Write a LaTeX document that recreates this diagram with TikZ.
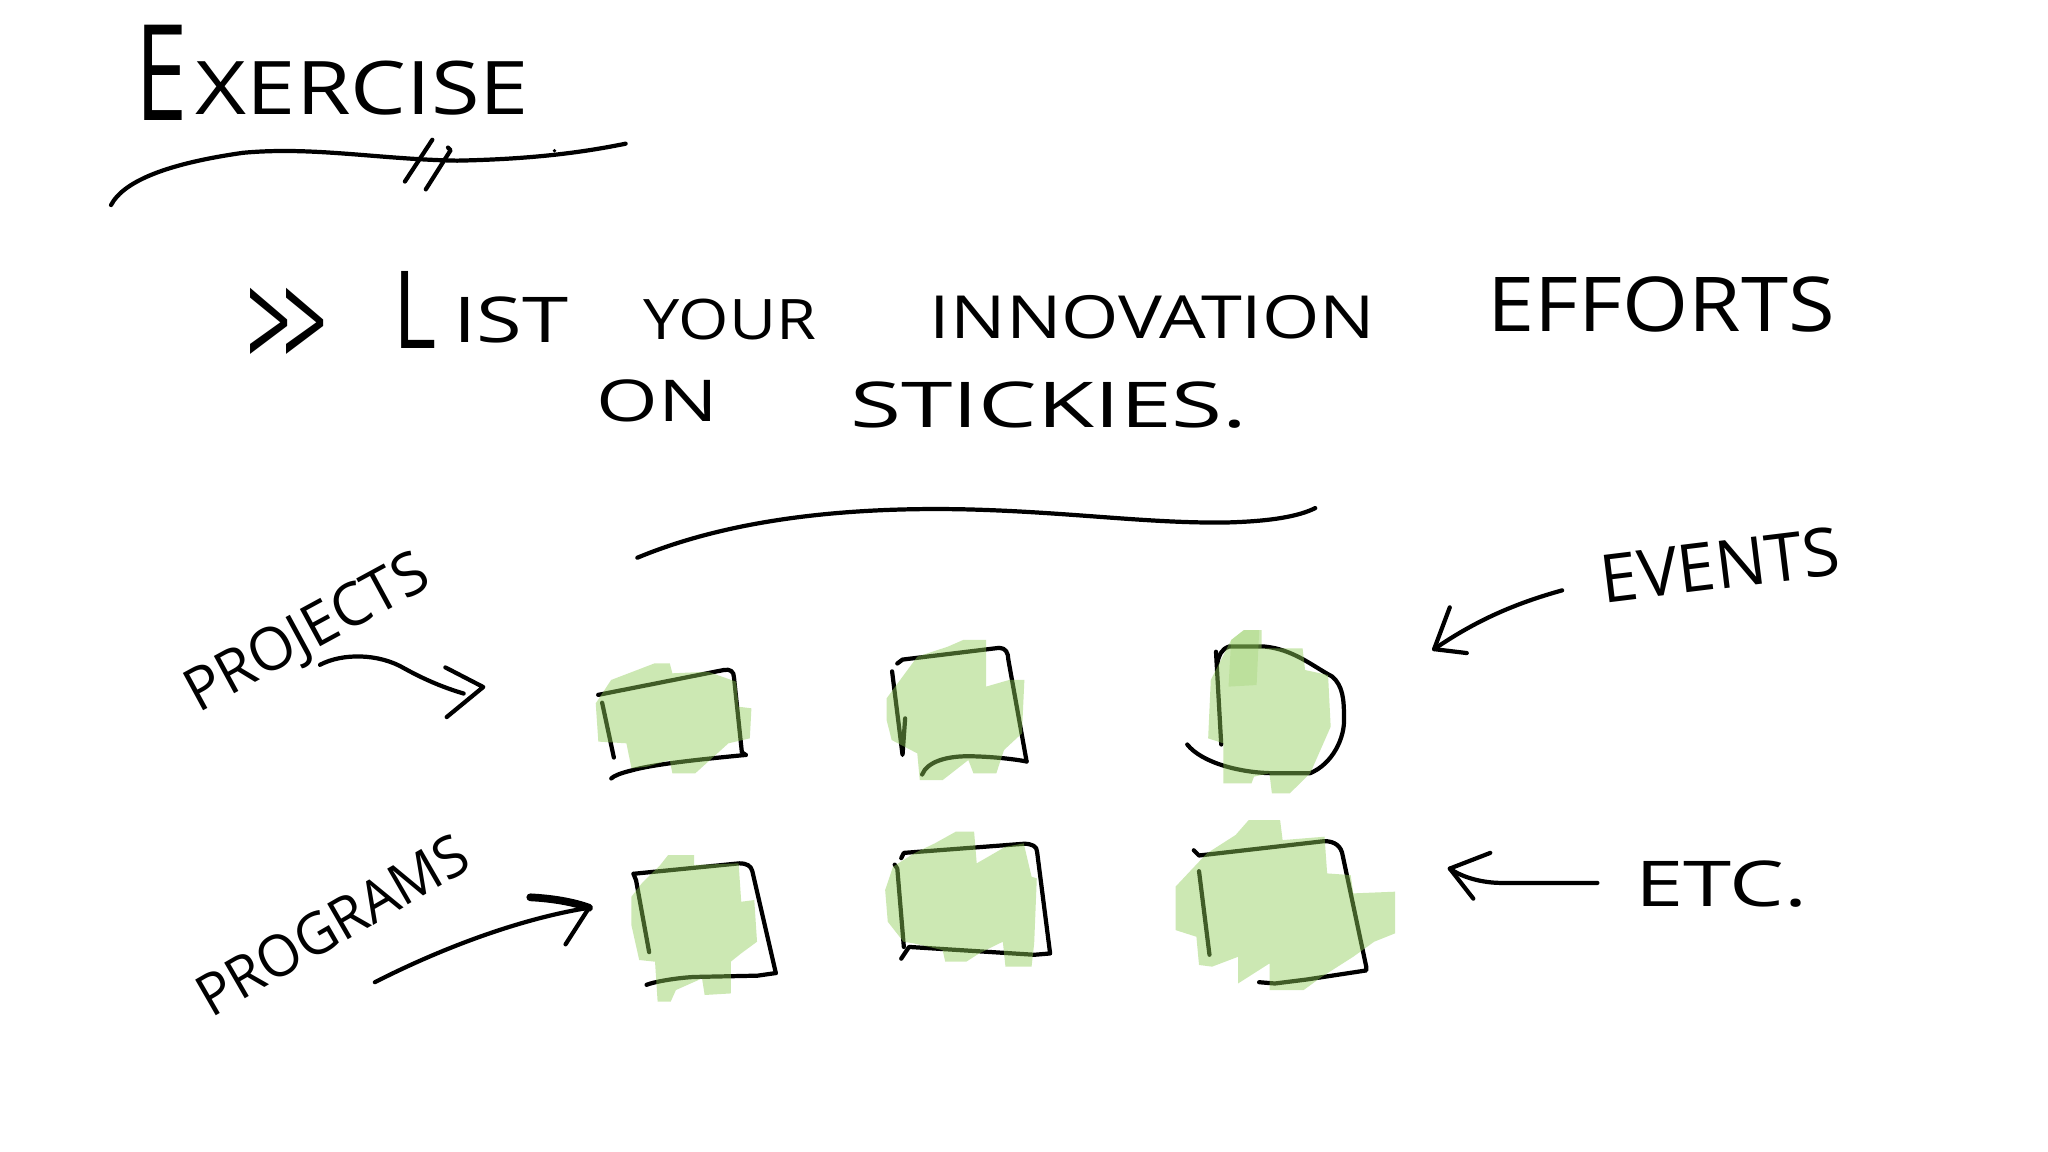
\documentclass[tikz,border=0pt]{standalone}
\usepackage{fontspec}
\setmainfont{Open Sans}
\usepackage{graphicx}
\newlength\uu
\setlength\uu{0.0130612cm}
\newcommand\fitw[3]{\resizebox{#1\uu}{#2\uu}{#3}}
\definecolor{markergreen}{RGB}{144,204,88}
\tikzset{
  ink/.style={draw=black, line width=1.2pt, line cap=round, line join=round},
  thickink/.style={ink, line width=2.2pt},
  hw/.style={inner sep=0pt, outer sep=0pt, anchor=base west},
  marker/.style={fill=markergreen, fill opacity=0.45, draw=none}
}
\begin{document}
\begin{tikzpicture}[x=0.0130612cm, y=-0.0130612cm]
\fill[white] (0,0) rectangle (1568,882);
\useasboundingbox (0,0) rectangle (1568,882);

% ---------- title ----------
\node[hw] (exE) at (104,92) {\fitw{40}{73}{E}};
\node[hw] (exRest) at (150,88) {\fitw{255}{41}{XERCISE}};
\draw[ink] (85,157) .. controls (95,138) and (130,125) .. (186,117)
           .. controls (240,112) and (290,122) .. (350,123)
           .. controls (400,122) and (440,118) .. (479,110);
\draw[ink] (310,139) -- (331,107);
\draw[ink] (326,145) -- (345,115) -- (343,113);
\fill (424.5,115.4) circle (1.4);

% ---------- instruction ----------
\node[hw] (chev) at (189,284) {\fitw{62}{63}{>\kern-0.12em>}};
\node[hw] (wL) at (301,267) {\fitw{33}{59}{L}};
\node[hw] (wIST) at (347,262) {\fitw{88}{35}{IST}};
\node[hw] (wYOUR) at (493,260) {\fitw{132}{31}{YOUR}};
\node[hw] (wINNOV) at (712,259) {\fitw{341}{33}{INNOVATION}};
\node[hw] (wEFF) at (1139,254) {\fitw{266}{42}{EFFORTS}};
\node[hw] (wON) at (457,323) {\fitw{93}{32}{ON}};
\node[hw] (wSTICK) at (651,327) {\fitw{304}{35}{STICKIES.}};

\draw[ink] (488,427) .. controls (560,397) and (650,388) .. (740,390)
           .. controls (820,392) and (880,401) .. (940,400)
           .. controls (975,399) and (995,395) .. (1007,389);

% ---------- side labels ----------
\node[hw, rotate=28.5] (lProj) at (152,546) {\fitw{205}{33}{PROJECTS}};
\node[hw, rotate=30] (lProg) at (162,780) {\fitw{232}{32}{PROGRAMS}};
\node[hw, rotate=7] (lEvents) at (1228,462) {\fitw{184}{37}{EVENTS}};
\node[hw] (lEtc) at (1252,694) {\fitw{132}{35}{ETC.}};

% ---------- arrows ----------
\coordinate (pjS) at (245,509);
\coordinate (pjE) at (355,531);
\coordinate (pjT) at (370,526);
\draw[ink] (pjS) .. controls (262,500) and (290,500) .. (310,512)
           .. controls (330,523) and (345,528) .. (pjE);
\draw[ink] (341,511) -- (pjT) -- (342,549);

\coordinate (pgS) at (287,752);
\coordinate (pgT) at (451,695);
\draw[ink] (pgS) .. controls (340,725) and (400,703) .. (pgT);
\draw[thickink] (406,687) .. controls (425,688) and (440,691) .. (pgT);
\draw[ink] (pgT) -- (433,723);

\coordinate (evS) at (1196,452);
\coordinate (evT) at (1098,497);
\draw[ink] (evS) .. controls (1160,462) and (1130,475) .. (evT);
\draw[ink] (1110,465) -- (evT) -- (1123,500);

\coordinate (etS) at (1223,676);
\coordinate (etT) at (1110,665);
\draw[ink] (etS) -- (1150,676) .. controls (1135,676) and (1120,672) .. (etT);
\draw[ink] (1141,653) -- (etT) -- (1128,688);

% ---------- sticky outlines ----------
% S1
\draw[ink] (458,532) -- (554,513) .. controls (559,512) and (562,514) .. (562,519) -- (568,576) -- (571,578);
\draw[ink] (571,578) .. controls (540,581) and (500,585) .. (483,590) .. controls (475,592) and (470,594) .. (468,596);
\draw[ink] (461,538) -- (470,580);
% S2
\draw[ink] (687,508) -- (691,505) -- (765,496) .. controls (770,496) and (772,500) .. (772,505) -- (786,583);
\draw[ink] (786,583) .. controls (770,580) and (750,579) .. (741,579) .. controls (725,579) and (710,583) .. (706,593);
\draw[ink] (683,514) -- (691,578) -- (693,550);
% S3
\draw[ink] (931,499) -- (935,570);
\draw[ink] (909,570) .. controls (920,584) and (950,592) .. (976,592) -- (1003,592)
           .. controls (1020,585) and (1030,565) .. (1029,549)
           .. controls (1029,535) and (1028,525) .. (1020,518)
           .. controls (1005,510) and (990,497) .. (968,495) -- (941,495)
           .. controls (935,497) and (933,502) .. (932,508);
% S4
\draw[ink] (485,669) -- (566,661) .. controls (572,661) and (575,663) .. (576,667) -- (594,745);
\draw[ink] (594,745) -- (580,747) -- (531,748) .. controls (515,749) and (500,752) .. (495,754);
\draw[ink] (485,669) -- (487,674) -- (497,729);
% S5
\draw[ink] (690,657) -- (692,653) -- (784,646) .. controls (790,646) and (794,648) .. (794,652) -- (804,730) -- (792,731) -- (696,725) -- (690,734);
\draw[ink] (685,662) -- (687,665) -- (692,725);
% S6
\draw[ink] (914,651) -- (918,655) -- (1014,644) .. controls (1022,644) and (1027,648) .. (1028,655) -- (1046,740) -- (1046,743) -- (1000,750) -- (976,753) -- (964,752);
\draw[ink] (918,667) -- (926,731);

% ---------- marker fills ----------
\fill[marker] (456.1,538.5) -- (467.9,520.6) -- (501.1,507.9) -- (512.8,507.9) -- (514.8,515.5) -- (542.1,514.3) -- (563.6,521.9) -- (565.5,541.1) -- (575.3,542.3) -- (574.1,565.3) -- (557.7,569.1) -- (532.3,592.1) -- (514.8,592.1) -- (512.8,581.9) -- (495.2,587.0) -- (483.5,588.3) -- (479.6,569.1) -- (458.1,567.8) -- cycle;
\fill[marker] (678.8,534.7) -- (702.3,502.8) -- (725.7,495.1) -- (737.4,490.0) -- (755.0,490.0) -- (755.0,525.7) -- (772.6,520.6) -- (784.3,520.6) -- (782.4,561.5) -- (768.7,574.2) -- (762.8,592.1) -- (745.3,592.1) -- (741.4,581.9) -- (721.8,597.2) -- (704.2,597.2) -- (702.3,576.8) -- (682.7,566.6) -- (678.8,551.3) -- cycle;
\fill[marker] (925.0,565.3) -- (927.0,520.6) -- (942.6,490.0) -- (952.3,482.4) -- (966.0,482.4) -- (966.0,496.4) -- (997.3,496.4) -- (999.2,513.0) -- (1016.8,516.8) -- (1018.8,556.4) -- (1003.1,592.1) -- (987.5,607.4) -- (973.8,607.4) -- (971.9,592.1) -- (960.1,594.6) -- (958.2,599.7) -- (936.7,599.7) -- (936.7,569.1) -- cycle;
\fill[marker, fill opacity=0.25] (940.6,525.7) -- (942.6,490.0) -- (952.3,482.4) -- (964.1,482.4) -- (962.1,524.5) -- cycle;
\fill[marker] (483.4,686.6) -- (491.4,676.3) -- (505.5,662.3) -- (511.5,654.7) -- (531.5,654.7) -- (531.5,662.3) -- (565.5,661.0) -- (567.5,690.4) -- (577.5,689.1) -- (579.6,721.0) -- (567.5,729.9) -- (559.5,736.3) -- (559.5,760.6) -- (539.5,761.8) -- (537.5,749.1) -- (517.5,758.0) -- (513.5,766.9) -- (503.5,766.9) -- (501.5,736.3) -- (489.4,735.0) -- (483.4,708.2) -- cycle;
\fill[marker] (677.7,681.4) -- (683.7,663.6) -- (699.7,653.4) -- (715.7,645.7) -- (731.7,636.8) -- (745.8,636.8) -- (747.8,661.0) -- (769.8,648.3) -- (783.8,645.7) -- (789.8,671.2) -- (793.8,672.5) -- (791.8,722.3) -- (789.8,740.1) -- (769.8,740.1) -- (767.8,721.0) -- (749.8,729.9) -- (739.8,736.3) -- (723.7,736.3) -- (721.7,727.4) -- (699.7,722.3) -- (691.7,721.0) -- (679.7,705.7) -- cycle;
\fill[marker] (900.0,712.1) -- (900.0,678.9) -- (912.0,666.1) -- (924.0,653.4) -- (946.0,639.3) -- (956.0,627.9) -- (980.1,627.9) -- (982.0,643.2) -- (1014.1,640.6) -- (1016.1,668.7) -- (1034.1,670.0) -- (1036.1,684.0) -- (1068.1,682.7) -- (1068.1,714.6) -- (1052.1,721.0) -- (1036.1,732.5) -- (1012.1,747.8) -- (998.1,758.0) -- (972.0,758.0) -- (972.0,737.6) -- (948.0,752.9) -- (948.0,732.5) -- (928.0,740.1) -- (918.0,738.8) -- (916.0,717.2) -- cycle;
\end{tikzpicture}
\end{document}
